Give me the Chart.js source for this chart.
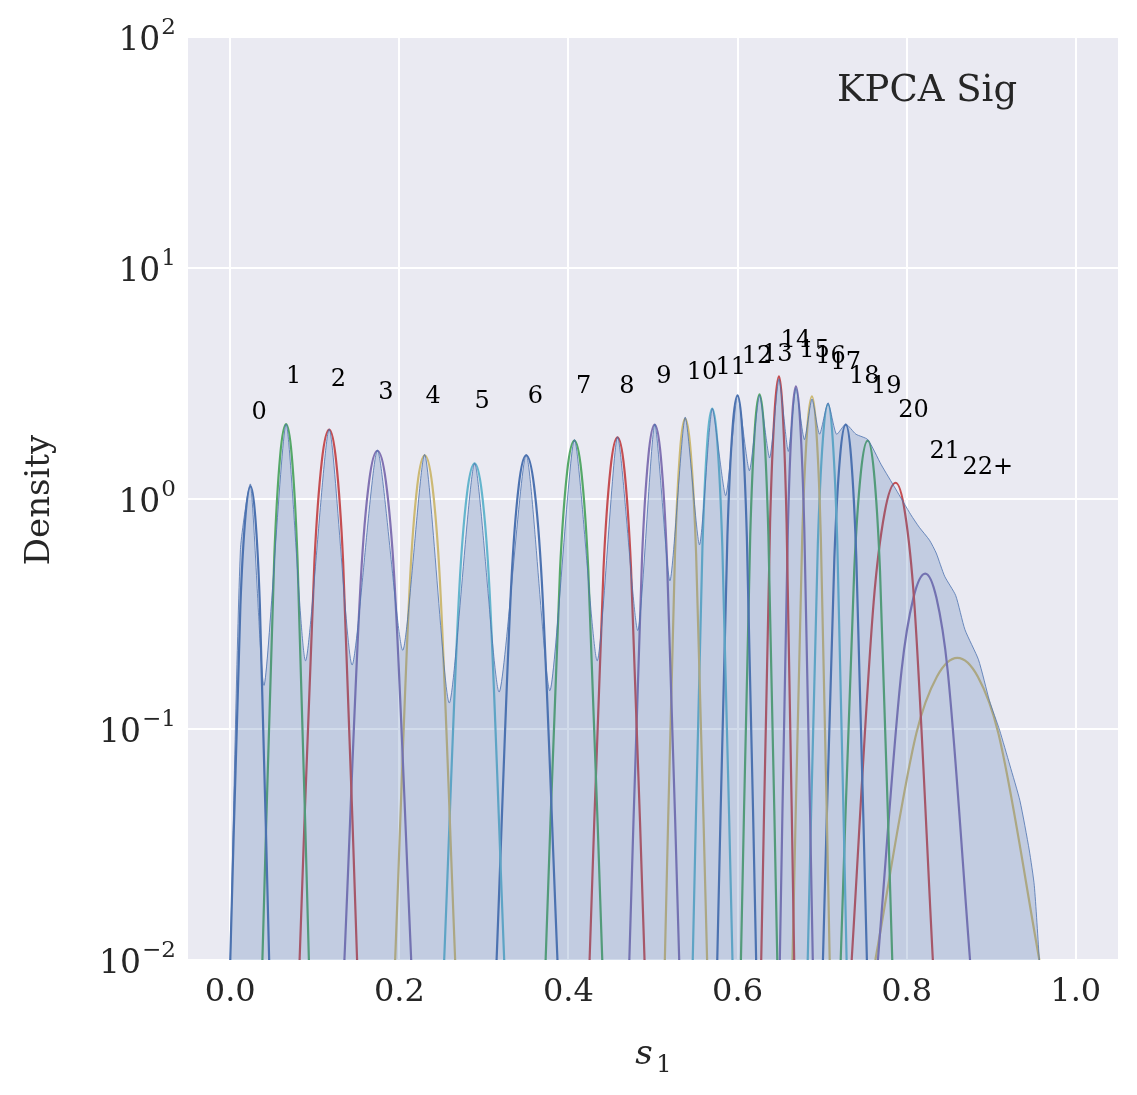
<!DOCTYPE html>
<html><head><meta charset="utf-8">
<script src="https://cdn.jsdelivr.net/npm/chart.js@4/dist/chart.umd.min.js"></script>
<style>html,body{margin:0;padding:0;background:#fff}#w{width:1137px;height:1095px}</style>
</head><body><div id="w"><canvas id="c"></canvas></div>
<script>
// Component curves
const compLabels = ["0","1","2","3","4","5","6","7","8","9","10","11","12","13","14","15","16","17","18","19","20","21","22+"];
const compCenter = [0.024,0.066,0.117,0.174,0.230,0.289,0.350,0.407,0.458,0.502,0.538,0.570,0.600,0.626,0.649,0.669,0.688,0.707,0.728,0.754,0.787,0.822,0.860];
const compPeak   = [1.13,2.1,1.99,1.61,1.54,1.42,1.54,1.78,1.84,2.09,2.22,2.45,2.80,2.83,3.38,3.06,2.77,2.56,2.09,1.78,1.17,0.473,0.204];
const compShoulderY = [0.84,1.53,1.45,1.19,1.14,1.05,1.14,1.31,1.35,1.52,1.61,1.77,2.00,2.02,2.35,2.15,1.96,1.82,1.52,1.31,0.87,0.371,0.169];
const compMidY   = [0.346,0.552,0.530,0.452,0.437,0.411,0.437,0.487,0.500,0.550,0.575,0.619,0.685,0.690,0.789,0.731,0.679,0.640,0.550,0.487,0.356,0.180,0.096];
const compLeft   = [0.000,0.038,0.082,0.135,0.195,0.253,0.315,0.373,0.425,0.472,0.514,0.547,0.576,0.604,0.628,0.650,0.665,0.683,0.701,0.722,0.735,0.766,0.763];
const compRight  = [0.046,0.093,0.150,0.214,0.266,0.324,0.387,0.440,0.490,0.531,0.564,0.594,0.622,0.647,0.667,0.689,0.709,0.729,0.753,0.783,0.831,0.875,0.957];
const labelX = [0.034,0.075,0.128,0.184,0.240,0.298,0.361,0.418,0.469,0.513,0.558,0.592,0.623,0.647,0.669,0.691,0.710,0.728,0.750,0.776,0.808,0.845,0.896];
const labelY = [2.36,3.38,3.28,2.88,2.77,2.63,2.77,3.06,3.06,3.38,3.52,3.70,4.12,4.21,4.84,4.38,4.12,3.88,3.38,3.06,2.40,1.60,1.36];
// Overall density (filled)
const densX = [0.000,0.012,0.024,0.040,0.066,0.089,0.117,0.144,0.174,0.204,0.230,0.259,0.289,0.318,0.350,0.378,0.407,0.434,0.458,0.482,0.502,0.520,0.538,0.555,0.570,0.586,0.600,0.614,0.626,0.638,0.649,0.660,0.669,0.679,0.688,0.697,0.707,0.717,0.728,0.740,0.754,0.770,0.787,0.805,0.815,0.827,0.835,0.845,0.858,0.869,0.885,0.898,0.910,0.922,0.934,0.945,0.951,0.957];
const densY = [0.01,0.6,1.15,0.155,2.1,0.198,2.0,0.19,1.62,0.22,1.55,0.13,1.42,0.145,1.55,0.147,1.8,0.198,1.85,0.268,2.1,0.44,2.25,0.63,2.45,1.03,2.8,1.32,2.8,1.5,3.3,1.6,3.0,1.8,2.7,1.9,2.6,1.9,2.1,1.9,1.8,1.4,1.1,0.85,0.75,0.66,0.58,0.46,0.38,0.27,0.2,0.133,0.099,0.07,0.049,0.03,0.021,0.01];
const xTicks = [0.0,0.2,0.4,0.6,0.8,1.0];
const yTicks = [0.01,0.1,1,10,100];
const yTickExp = ["−2","−1","0","1","2"];
const palette = ["#4C72B0","#55A868","#C44E52","#8172B2","#CCB974","#64B5CD"];

const datasets = [{
  data: densX.map((x,i)=>({x, y: densY[i]})),
  borderColor:"#4C72B0", borderWidth:0.8, backgroundColor:"rgba(76,114,176,0.25)",
  fill:"start", pointRadius:0, tension:0.2
}];
compCenter.forEach((c,i)=>{
  const L=compLeft[i], R=compRight[i];
  datasets.push({
    data:[{x:L,y:0.01},{x:(L+c)/2,y:compMidY[i]},{x:L+(c-L)*0.75,y:compShoulderY[i]},{x:c,y:compPeak[i]},
          {x:R-(R-c)*0.75,y:compShoulderY[i]},{x:(R+c)/2,y:compMidY[i]},{x:R,y:0.01}],
    borderColor: palette[i%6], borderWidth:2.2, fill:false, pointRadius:0, cubicInterpolationMode:"monotone"
  });
});

const SERIF = "'DejaVu Serif', serif";
const deco = {
  id:"deco",
  beforeDraw(ch){
    const {ctx, chartArea:a} = ch;
    ctx.save(); ctx.fillStyle="#EAEAF2"; ctx.fillRect(a.left,a.top,a.right-a.left,a.bottom-a.top); ctx.restore();
  },
  afterDraw(ch){
    const {ctx, chartArea:a, scales:{x,y}} = ch;
    ctx.save(); ctx.fillStyle="#262626";
    ctx.font = "32px "+SERIF; ctx.textAlign="center"; ctx.textBaseline="top";
    xTicks.forEach(v=>ctx.fillText(v.toFixed(1), x.getPixelForValue(v), a.bottom+17));
    yTicks.forEach((v,i)=>{
      const py = y.getPixelForValue(v);
      ctx.font = "23px "+SERIF; ctx.textAlign="right"; ctx.textBaseline="alphabetic";
      const ew = ctx.measureText(yTickExp[i]).width;
      ctx.fillText(yTickExp[i], a.left-12, py-3);
      ctx.font = "33px "+SERIF;
      ctx.fillText("10", a.left-12-ew-1, py+13);
    });
    ctx.font = "24px "+SERIF; ctx.textAlign="center"; ctx.textBaseline="middle"; ctx.fillStyle="#000";
    compLabels.forEach((t,i)=>ctx.fillText(t, x.getPixelForValue(labelX[i]), y.getPixelForValue(labelY[i])));
    ctx.fillStyle="#262626";
    ctx.font = "37px "+SERIF; ctx.textAlign="center"; ctx.textBaseline="middle";
    ctx.fillText("KPCA Sig", 927, 91);
    ctx.font = "italic 34px "+SERIF; ctx.textBaseline="alphabetic";
    ctx.fillText("s", 644, 1064);
    ctx.font = "24px "+SERIF; ctx.fillText("1", 664, 1072);
    ctx.save(); ctx.translate(40,500); ctx.rotate(-Math.PI/2);
    ctx.font = "34px "+SERIF; ctx.textBaseline="middle"; ctx.fillText("Density",0,0); ctx.restore();
    ctx.restore();
  }
};

new Chart(document.getElementById("c"),{
  type:"line",
  data:{datasets},
  options:{
    responsive:true, maintainAspectRatio:false, animation:false,
    layout:{padding:{left:188,top:37,right:19,bottom:135}},
    plugins:{legend:{display:false},tooltip:{enabled:false}},
    scales:{
      x:{type:"linear",min:-0.05,max:1.05,
        afterBuildTicks(s){s.ticks=xTicks.map(v=>({value:v}));},
        ticks:{display:false}, grid:{color:"#fff",lineWidth:2,drawTicks:false}, border:{display:false}},
      y:{type:"logarithmic",min:0.01,max:100,
        afterBuildTicks(s){s.ticks=yTicks.map(v=>({value:v}));},
        ticks:{display:false}, grid:{color:"#fff",lineWidth:2,drawTicks:false}, border:{display:false}}
    }
  },
  plugins:[deco]
});
</script></body></html>
